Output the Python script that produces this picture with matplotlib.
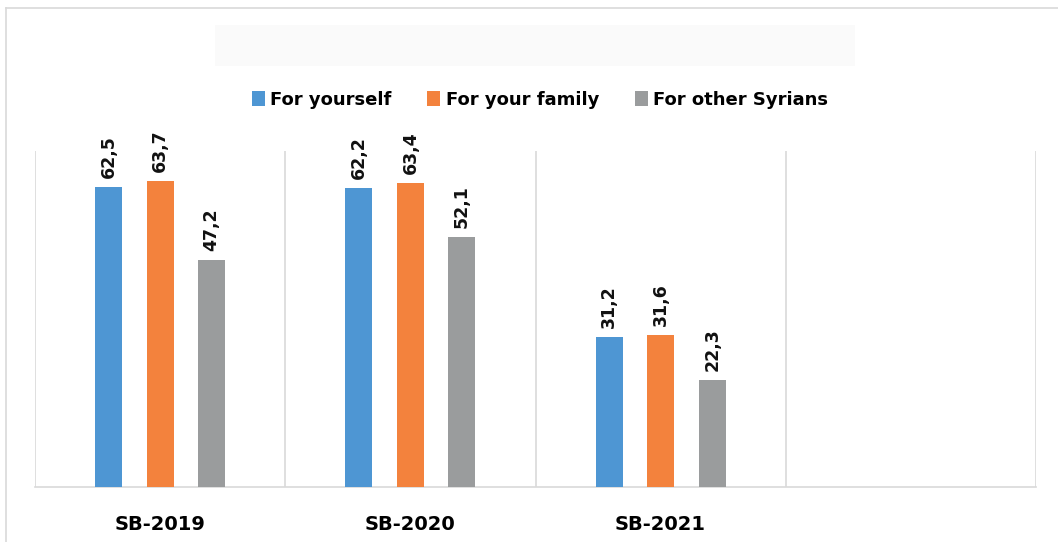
import numpy as np
import matplotlib.pyplot as plt
from matplotlib.patches import Rectangle
from matplotlib.lines import Line2D

categories = ['SB-2019', 'SB-2020', 'SB-2021', '']
series_names = ['For yourself', 'For your family', 'For other Syrians']
yourself = [62.5, 62.2, 31.2]
family = [63.7, 63.4, 31.6]
other_syrians = [47.2, 52.1, 22.3]
colors = ['#4E96D3', '#F3823D', '#9A9C9D']

plt.rcParams['font.family'] = ['DejaVu Sans']

fig = plt.figure(figsize=(10.58, 5.42), dpi=100)
ax = fig.add_axes([35 / 1058, 55 / 542, 1001 / 1058, 336 / 542])

# outer frame and faint title box
fig.add_artist(Line2D([6 / 1058, 6 / 1058], [0, 1 - 8 / 542], transform=fig.transFigure,
					  color='#d9d9d9', lw=1.2))
fig.add_artist(Line2D([6 / 1058, 1], [1 - 8 / 542, 1 - 8 / 542], transform=fig.transFigure,
					  color='#d9d9d9', lw=1.2))
fig.add_artist(Rectangle((215 / 1058, 1 - 66 / 542), 640 / 1058, 41 / 542,
						 transform=fig.transFigure, facecolor='#fafafa', edgecolor='none'))

x = np.arange(len(yourself))
width = 0.108
step = 0.206
for i, (vals, name) in enumerate(zip([yourself, family, other_syrians], series_names)):
	pos = x + (i - 1) * step
	ax.bar(pos, vals, width, color=colors[i], label=name, zorder=3)
	for p, v in zip(pos, vals):
		ax.text(p, v + 1.9, f'{v:.1f}'.replace('.', ','), rotation=90, ha='center', va='bottom',
				fontsize=12.5, fontweight='bold', color='#111111')

ax.set_xlim(-0.5, len(categories) - 0.5)
ax.set_ylim(0, 70)
ax.set_xticks(np.arange(len(categories)))
ax.set_xticklabels(categories, fontsize=14, fontweight='bold')
ax.tick_params(axis='x', length=0, pad=20)
ax.set_xticks(np.arange(len(categories) + 1) - 0.5, minor=True)
ax.tick_params(axis='x', which='minor', length=0)
ax.grid(axis='x', which='minor', color='#d9d9d9', lw=1.2, zorder=0)
ax.set_yticks([])
for s in ['top', 'left', 'right']:
	ax.spines[s].set_visible(False)
ax.spines['bottom'].set_color('#d9d9d9')
ax.spines['bottom'].set_linewidth(1.2)

leg = fig.legend(loc='center', bbox_to_anchor=(540 / 1058, 1 - 100 / 542), ncol=3, frameon=False,
				 prop={'weight': 'bold', 'size': 13}, handlelength=0.7, handleheight=0.9,
				 handletextpad=0.3, columnspacing=2.0)

fig.savefig('out.png', dpi=100)
